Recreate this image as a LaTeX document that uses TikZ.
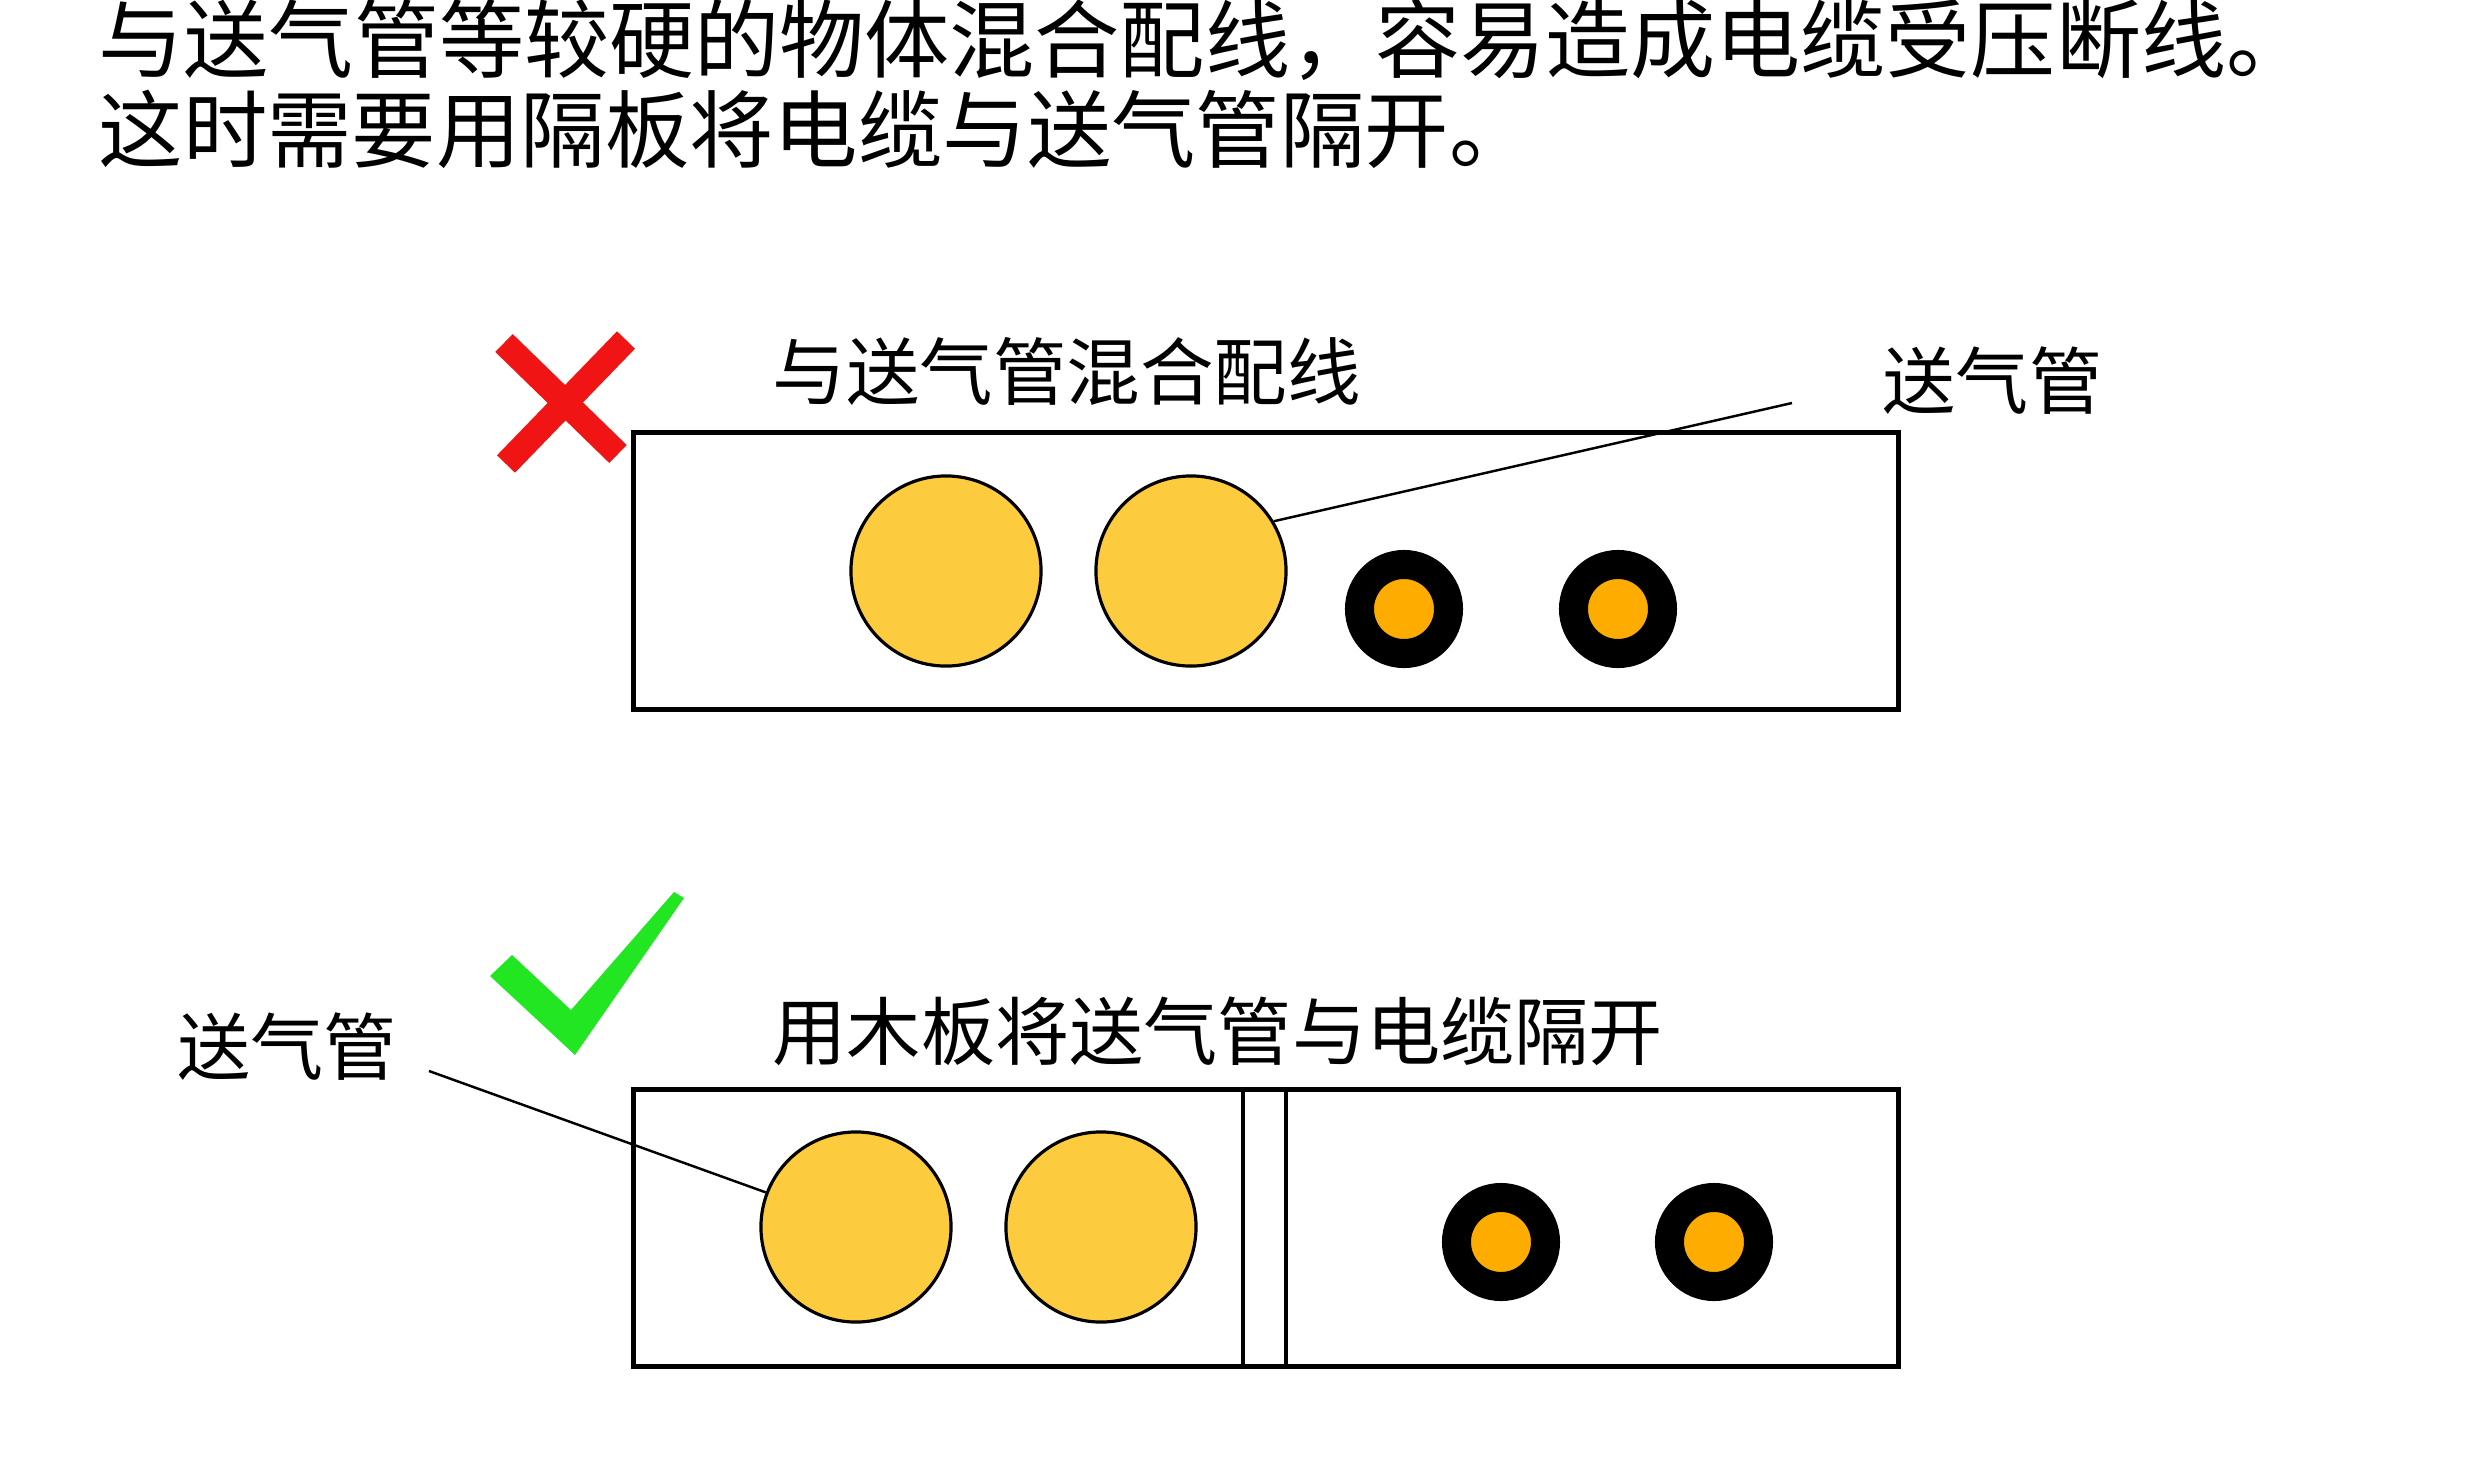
\documentclass[tikz,border=0pt]{standalone}
\usepackage{fontspec}
\setmainfont{Noto Sans CJK SC}
\definecolor{pipeyellow}{RGB}{253,203,62}
\definecolor{coreorange}{RGB}{255,172,0}
\definecolor{xred}{RGB}{240,20,20}
\definecolor{okgreen}{RGB}{34,230,34}
\begin{document}
\begin{tikzpicture}[x=0.01cm,y=-0.01cm,
  txt/.style={anchor=west,inner sep=0pt,text=black},
  trough/.style={draw=black,line width=1.4pt,rectangle,minimum width=12.64cm,minimum height=2.76cm,inner sep=0pt},
  pipe/.style={circle,draw=black,line width=0.9pt,fill=pipeyellow,minimum size=1.9cm,inner sep=0pt},
  cable/.style={circle,draw=black,line width=0.29cm,fill=coreorange,minimum size=0.89cm,inner sep=0pt},
  leader/.style={draw=black,line width=0.7pt},
  board/.style={draw=black,line width=1.1pt,rectangle,minimum width=0.43cm,minimum height=2.76cm,inner sep=0pt}]
\useasboundingbox[fill=white] (0,0) rectangle (2480,1472);

% header
\node[txt,font=\fontsize{24.2pt}{28pt}\selectfont] (h1) at (98,40) {与送气管等较硬的物体混合配线，容易造成电缆受压断线。};
\node[txt,font=\fontsize{24pt}{28pt}\selectfont] (h2) at (98,129) {这时需要用隔板将电缆与送气管隔开。};

% top example
\draw[xred,line width=0.25cm] (504,343) -- (618,454);
\draw[xred,line width=0.25cm] (626,340) -- (506,464);
\node[txt,font=\fontsize{20.9pt}{25pt}\selectfont] (t1) at (772,372) {与送气管混合配线};
\node[trough] (box1) at (1266,571) {};
\node[pipe] (p1) at (946,571) {};
\node[pipe] (p2) at (1191,571) {};
\node[cable] (c1) at (1404,609) {};
\node[cable] (c2) at (1618,609) {};
\node[txt,font=\fontsize{20.8pt}{25pt}\selectfont] (l1) at (1882,381) {送气管};
\coordinate (l1end) at (1792,403);
\draw[leader] (l1end) -- (p2.31);

% bottom example
\fill[okgreen] (490,976) -- (512,955) -- (571,1010) -- (674,892) -- (684,898) -- (575,1055) -- cycle;
\node[txt,font=\fontsize{21.1pt}{25pt}\selectfont] (t2) at (772,1031) {用木板将送气管与电缆隔开};
\node[trough] (box2) at (1266,1228) {};
\node[board] (wood) at (1264.5,1228) {};
\node[pipe] (q1) at (856,1227) {};
\node[pipe] (q2) at (1101,1227) {};
\node[cable] (d1) at (1501,1242) {};
\node[cable] (d2) at (1714,1242) {};
\node[txt,font=\fontsize{20.8pt}{25pt}\selectfont] (l2) at (177,1047) {送气管};
\coordinate (l2end) at (429,1071);
\draw[leader] (l2end) -- (q1.159);
\end{tikzpicture}
\end{document}
